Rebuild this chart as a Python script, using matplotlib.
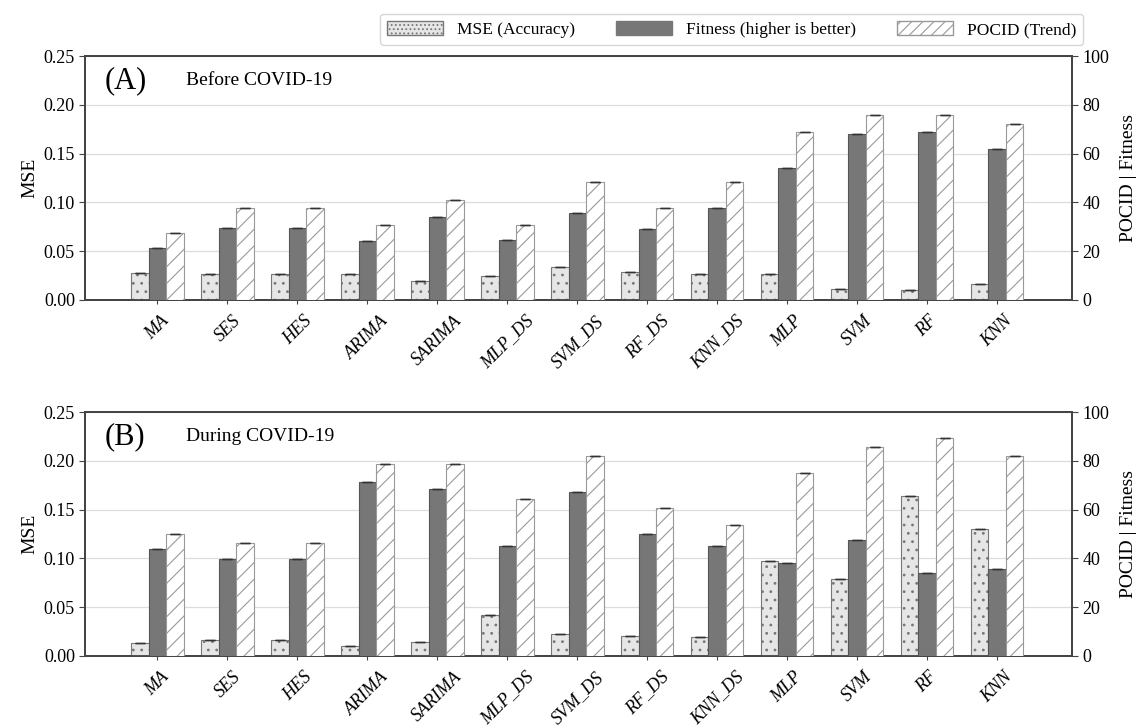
import numpy as np
import matplotlib.pyplot as plt
from matplotlib.patches import Patch

plt.rcParams['font.family'] = ['Liberation Serif', 'DejaVu Serif']
plt.rcParams['hatch.linewidth'] = 0.8

models = ['MA', 'SES', 'HES', 'ARIMA', 'SARIMA', 'MLP_DS', 'SVM_DS', 'RF_DS',
          'KNN_DS', 'MLP', 'SVM', 'RF', 'KNN']

# (A) Before COVID-19
mse_before = [0.028, 0.027, 0.027, 0.027, 0.019, 0.025, 0.034, 0.029, 0.027,
              0.027, 0.011, 0.010, 0.016]
fit_before = [21.2, 29.5, 29.5, 24.0, 34.2, 24.6, 35.6, 28.9, 37.8, 54.2,
              68.0, 68.8, 62.0]
pocid_before = [27.3, 37.8, 37.8, 30.9, 41.0, 30.9, 48.2, 37.8, 48.2, 68.9,
                75.7, 75.7, 72.3]

# (B) During COVID-19
mse_during = [0.013, 0.016, 0.016, 0.010, 0.014, 0.042, 0.022, 0.020, 0.019,
              0.097, 0.079, 0.164, 0.130]
fit_during = [43.8, 39.8, 39.8, 71.4, 68.4, 45.0, 67.4, 50.2, 45.0, 38.0,
              47.6, 33.8, 35.5]
pocid_during = [50.0, 46.4, 46.4, 78.6, 78.6, 64.3, 82.1, 60.7, 53.6, 75.0,
                85.7, 89.3, 82.1]

panels = [('(A)', 'Before COVID-19', mse_before, fit_before, pocid_before),
          ('(B)', 'During COVID-19', mse_during, fit_during, pocid_during)]

fig = plt.figure(figsize=(11.38, 7.28), dpi=100)
x = np.arange(len(models))
w = 0.25
spine_col = '#444444'

for i, (tag, title, mse, fit, pocid) in enumerate(panels):
    bottom = 0.099 + (1 - i) * 0.489
    ax = fig.add_axes([0.075, bottom, 0.867, 0.335])
    ax2 = ax.twinx()

    ax.bar(x - w, mse, w, color='#e6e6e6', edgecolor='#777777', hatch='..',
           linewidth=0.8, zorder=3)
    ax.errorbar(x - w, mse, yerr=0, fmt='none', ecolor='#333333',
                capsize=3.5, capthick=1, zorder=4)
    ax2.bar(x, fit, w, color='#777777', edgecolor='#555555', linewidth=0.8,
            zorder=3)
    ax2.bar(x + w, pocid, w, color='white', edgecolor='#999999', hatch='//',
            linewidth=0.8, zorder=3)
    ax2.errorbar(x, fit, yerr=0, fmt='none', ecolor='#333333', capsize=3.5,
                 capthick=1, zorder=4)
    ax2.errorbar(x + w, pocid, yerr=0, fmt='none', ecolor='#333333',
                 capsize=3.5, capthick=1, zorder=4)

    ax.set_ylim(0, 0.25)
    ax.set_yticks(np.arange(0, 0.26, 0.05))
    ax.set_yticklabels([f'{v:.2f}' for v in np.arange(0, 0.26, 0.05)])
    ax2.set_ylim(0, 100)
    ax2.set_yticks(range(0, 101, 20))
    ax.set_xlim(-1.03, 13.07)
    ax.set_xticks(x)
    ax.set_xticklabels(models, rotation=45, ha='center', fontstyle='italic',
                       fontsize=13)
    ax.tick_params(axis='x', length=3, color=spine_col, pad=6)
    ax.tick_params(axis='y', labelsize=13, color=spine_col, length=4)
    ax2.tick_params(axis='y', labelsize=13, color=spine_col, length=4)
    ax.yaxis.grid(True, color='#dddddd', linewidth=0.9, zorder=0)
    ax.set_axisbelow(True)
    ax.set_ylabel('MSE', fontsize=14)
    ax2.set_ylabel('POCID | Fitness', fontsize=14, labelpad=8)
    for a in (ax, ax2):
        for s in a.spines.values():
            s.set_color(spine_col)
            s.set_linewidth(1.3)

    ax.text(0.02, 0.9, tag, transform=ax.transAxes, fontsize=22, va='center')
    ax.text(0.102, 0.9, title, transform=ax.transAxes, fontsize=14,
            va='center')

handles = [Patch(facecolor='#e6e6e6', edgecolor='#777777', hatch='....',
                 label='MSE (Accuracy)'),
           Patch(facecolor='#777777', edgecolor='#777777',
                 label='Fitness (higher is better)'),
           Patch(facecolor='white', edgecolor='#999999', hatch='///',
                 label='POCID (Trend)')]
fig.legend(handles=handles, loc='upper center', bbox_to_anchor=(0.643, 0.993),
           ncol=3, fontsize=12.5, frameon=True, edgecolor='#cccccc',
           handlelength=3.2, handleheight=0.9, columnspacing=2.4,
           fancybox=True)

fig.savefig('out.png', dpi=100)
